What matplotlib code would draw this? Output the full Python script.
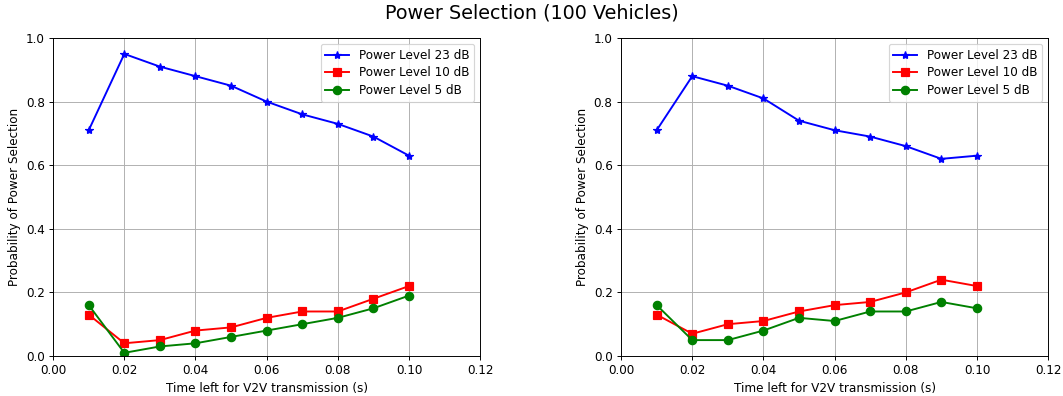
import matplotlib
matplotlib.use("Agg")
import matplotlib.pyplot as plt

tempo = [0.01, 0.02, 0.03, 0.04, 0.05, 0.06, 0.07, 0.08, 0.09, 0.10]

# painel esquerdo
esq_23 = [0.71, 0.95, 0.91, 0.88, 0.85, 0.80, 0.76, 0.73, 0.69, 0.63]
esq_10 = [0.13, 0.04, 0.05, 0.08, 0.09, 0.12, 0.14, 0.14, 0.18, 0.22]
esq_5 = [0.16, 0.01, 0.03, 0.04, 0.06, 0.08, 0.10, 0.12, 0.15, 0.19]

# painel direito
dir_23 = [0.71, 0.88, 0.85, 0.81, 0.74, 0.71, 0.69, 0.66, 0.62, 0.63]
dir_10 = [0.13, 0.07, 0.10, 0.11, 0.14, 0.16, 0.17, 0.20, 0.24, 0.22]
dir_5 = [0.16, 0.05, 0.05, 0.08, 0.12, 0.11, 0.14, 0.14, 0.17, 0.15]

fig, axes = plt.subplots(1, 2, figsize=(1063 / 86, 396 / 86), dpi=86)
fig.subplots_adjust(left=0.05, right=0.986, top=0.904, bottom=0.101, wspace=0.33)

for ax, p23, p10, p5 in zip(axes, [esq_23, dir_23], [esq_10, dir_10], [esq_5, dir_5]):
    ax.plot(tempo, p23, color="blue", marker="*", markersize=7, linewidth=1.6, label="Power Level 23 dB")
    ax.plot(tempo, p10, color="red", marker="s", markersize=7, linewidth=1.6, label="Power Level 10 dB")
    ax.plot(tempo, p5, color="green", marker="o", markersize=7, linewidth=1.6, label="Power Level 5 dB")
    ax.set_xlim(0, 0.12)
    ax.set_ylim(0, 1.0)
    ax.set_xlabel("Time left for V2V transmission (s)")
    ax.set_ylabel("Probability of Power Selection")
    ax.grid(True)
    ax.legend(loc="upper right", labelspacing=0.38)

fig.suptitle("Power Selection (100 Vehicles)", fontsize=16, y=0.99)

plt.savefig("out.png", dpi=86)
